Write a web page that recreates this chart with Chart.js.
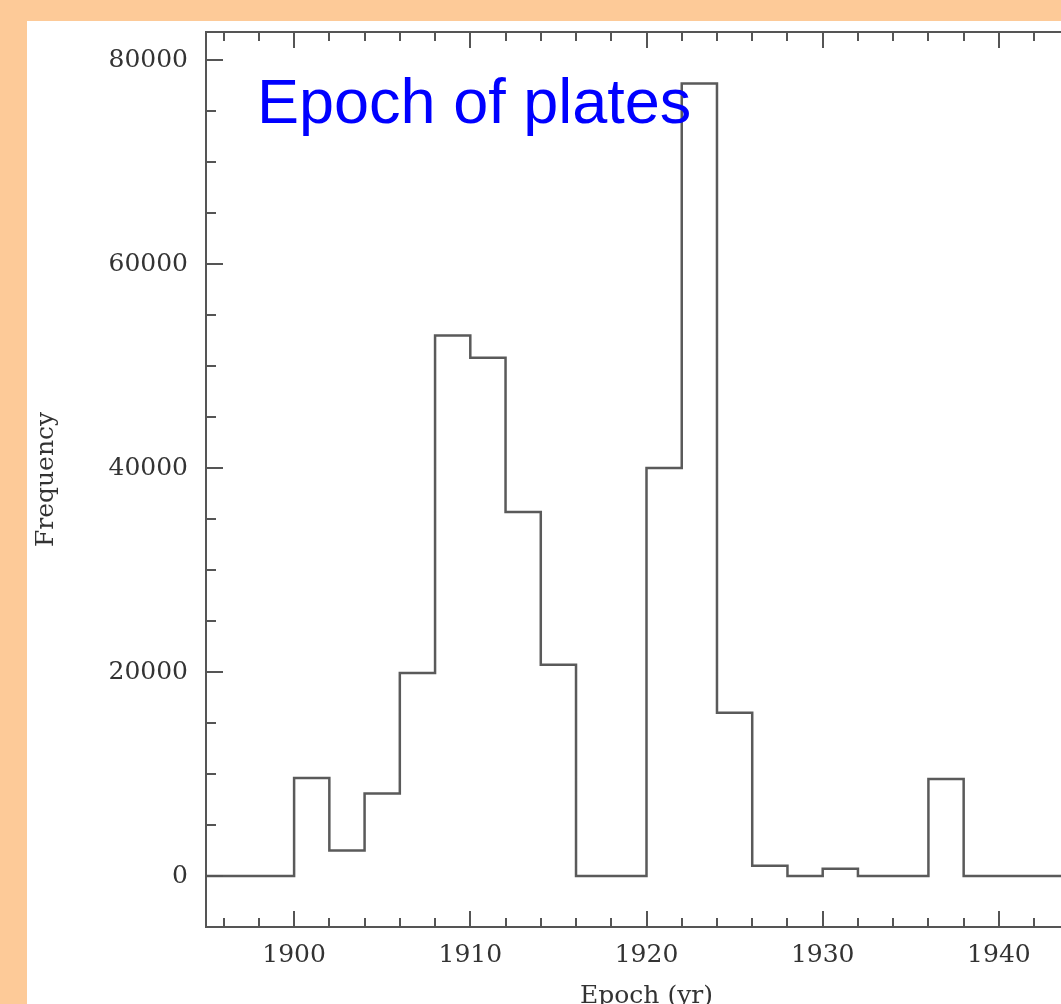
<!DOCTYPE html>
<html>
<head>
<meta charset="utf-8">
<title>Epoch of plates</title>
<script src="https://cdn.jsdelivr.net/npm/chart.js@4/dist/chart.umd.min.js"></script>
<style>
  html, body { margin: 0; padding: 0; }
  body { width: 1061px; height: 1004px; overflow: hidden; background: #fdca98; position: relative; }
  #panel { position: absolute; left: 27px; top: 21px; width: 1100px; height: 1000px; background: #fff; }
</style>
</head>
<body>
<div id="panel"><canvas id="epochChart"></canvas></div>
<script>
// histogram bins, 2 years wide, counted by left edge
const binStarts = [1894, 1896, 1898, 1900, 1902, 1904, 1906, 1908, 1910, 1912, 1914, 1916, 1918,
                   1920, 1922, 1924, 1926, 1928, 1930, 1932, 1934, 1936, 1938, 1940, 1942, 1944];
const plateCounts = [0, 0, 0, 9600, 2500, 8100, 19900, 53000, 50800, 35700, 20700, 0, 0,
                     40000, 77700, 16000, 1000, 0, 700, 0, 0, 9500, 0, 0, 0, 0];
const binWidth = 2;

const xTickLabels = [1900, 1910, 1920, 1930, 1940];
const yTickLabels = [0, 20000, 40000, 60000, 80000];

const axisColor = '#555';
const textColor = '#333';
const textFont = { family: '"DejaVu Serif", serif', size: 25 };

// step line points: left edge of each bin, plus the closing right edge
function histogramPoints() {
    const pts = binStarts.map((x, i) => ({ x: x, y: plateCounts[i] }));
    const last = binStarts.length - 1;
    pts.push({ x: binStarts[last] + binWidth, y: plateCounts[last] });
    return pts;
}

// box round the plot with inward major/minor ticks, and the blue caption
const frameTicks = {
    id: 'frameTicks',
    afterDatasetsDraw(chart) {
        const { ctx, chartArea: a, scales: { x, y } } = chart;
        ctx.save();
        ctx.strokeStyle = axisColor;
        ctx.lineWidth = 2;
        ctx.strokeRect(a.left, a.top, a.right - a.left, a.bottom - a.top);

        ctx.beginPath();
        for (let v = 1896; v <= x.max; v += 2) {
            const px = Math.round(x.getPixelForValue(v));
            const len = v % 10 === 0 ? 16 : 9;
            ctx.moveTo(px, a.bottom); ctx.lineTo(px, a.bottom - len);
            ctx.moveTo(px, a.top); ctx.lineTo(px, a.top + len);
        }
        for (let v = -5000; v <= y.max; v += 5000) {
            const py = Math.round(y.getPixelForValue(v));
            const len = v % 20000 === 0 ? 17 : 10;
            ctx.moveTo(a.left, py); ctx.lineTo(a.left + len, py);
            ctx.moveTo(a.right, py); ctx.lineTo(a.right - len, py);
        }
        ctx.stroke();

        ctx.fillStyle = '#0000ff';
        ctx.font = '63px "Liberation Sans", Arial, sans-serif';
        ctx.textBaseline = 'alphabetic';
        ctx.fillText('Epoch of plates', a.left + 51, a.top + 91);
        ctx.restore();
    }
};

document.addEventListener('DOMContentLoaded', function () {
    const ctx = document.getElementById('epochChart').getContext('2d');
    new Chart(ctx, {
        type: 'line',
        data: {
            datasets: [{
                label: 'Frequency',
                data: histogramPoints(),
                stepped: 'before',
                borderColor: '#5a5a5a',
                borderWidth: 2.5,
                pointRadius: 0,
                fill: false
            }]
        },
        options: {
            responsive: true,
            maintainAspectRatio: false,
            animation: false,
            layout: { padding: { top: 11, right: 40, left: 0, bottom: 0 } },
            plugins: {
                legend: { display: false },
                tooltip: { enabled: false }
            },
            scales: {
                x: {
                    type: 'linear',
                    min: 1895,
                    max: 1945,
                    grid: { display: false, drawTicks: false },
                    border: { display: false },
                    afterBuildTicks: s => { s.ticks = xTickLabels.map(v => ({ value: v })); },
                    afterFit: s => { s.height = 94; s.paddingLeft = 0; s.paddingRight = 0; },
                    ticks: {
                        color: textColor,
                        font: textFont,
                        padding: 13,
                        maxRotation: 0,
                        callback: v => String(v)
                    },
                    title: {
                        display: true,
                        text: 'Epoch (yr)',
                        color: textColor,
                        font: textFont,
                        padding: { top: 0, bottom: 10 }
                    }
                },
                y: {
                    min: -5000,
                    max: 82750,
                    grid: { display: false, drawTicks: false },
                    border: { display: false },
                    afterBuildTicks: s => { s.ticks = yTickLabels.map(v => ({ value: v })); },
                    afterFit: s => { s.width = 179; s.paddingTop = 0; s.paddingBottom = 0; },
                    ticks: {
                        color: textColor,
                        font: textFont,
                        padding: 18,
                        callback: v => String(v)
                    },
                    title: {
                        display: true,
                        text: 'Frequency',
                        color: textColor,
                        font: textFont,
                        padding: { top: 4, bottom: 0 }
                    }
                }
            }
        },
        plugins: [frameTicks]
    });
});
</script>
</body>
</html>
